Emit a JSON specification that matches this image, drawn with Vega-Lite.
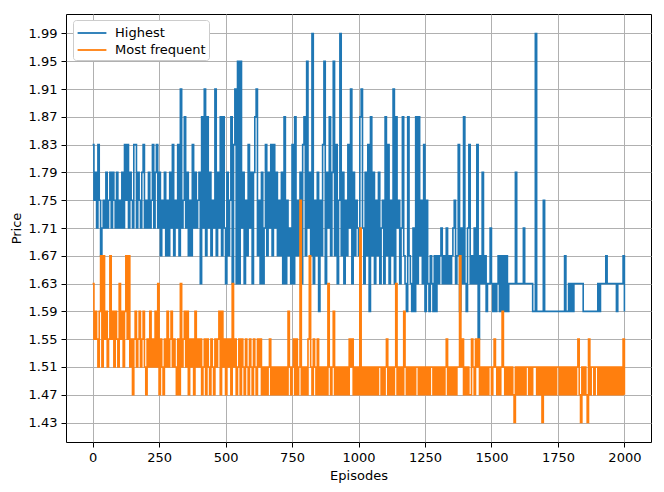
{
  "$schema": "https://vega.github.io/schema/vega-lite/v6.json",
  "width": 585,
  "height": 428,
  "autosize": {"type": "none"},
  "padding": {"left": 66, "top": 14, "right": 13, "bottom": 50},
  "background": "white",
  "data": {
    "values": [
      {"e":0,"h":1.83,"m":1.63},{"e":5,"h":1.75,"m":1.55},{"e":10,"h":1.79,"m":1.59},{"e":15,"h":1.71,"m":1.55},{"e":20,"h":1.83,"m":1.51},
      {"e":25,"h":1.75,"m":1.59},{"e":30,"h":1.67,"m":1.67},{"e":35,"h":1.71,"m":1.51},{"e":40,"h":1.75,"m":1.67},{"e":45,"h":1.71,"m":1.55},
      {"e":50,"h":1.79,"m":1.59},{"e":55,"h":1.71,"m":1.51},{"e":60,"h":1.75,"m":1.55},{"e":65,"h":1.79,"m":1.67},{"e":70,"h":1.71,"m":1.55},
      {"e":75,"h":1.79,"m":1.59},{"e":80,"h":1.75,"m":1.51},{"e":85,"h":1.71,"m":1.59},{"e":90,"h":1.79,"m":1.55},{"e":95,"h":1.71,"m":1.51},
      {"e":100,"h":1.75,"m":1.63},{"e":105,"h":1.71,"m":1.55},{"e":110,"h":1.79,"m":1.59},{"e":115,"h":1.71,"m":1.51},{"e":120,"h":1.83,"m":1.59},
      {"e":125,"h":1.75,"m":1.67},{"e":130,"h":1.83,"m":1.55},{"e":135,"h":1.71,"m":1.67},{"e":140,"h":1.79,"m":1.51},{"e":145,"h":1.75,"m":1.55},
      {"e":150,"h":1.71,"m":1.47},{"e":155,"h":1.83,"m":1.55},{"e":160,"h":1.83,"m":1.59},{"e":165,"h":1.71,"m":1.51},{"e":170,"h":1.79,"m":1.55},
      {"e":175,"h":1.75,"m":1.59},{"e":180,"h":1.71,"m":1.51},{"e":185,"h":1.79,"m":1.55},{"e":190,"h":1.83,"m":1.59},{"e":195,"h":1.71,"m":1.51},
      {"e":200,"h":1.75,"m":1.47},{"e":205,"h":1.71,"m":1.55},{"e":210,"h":1.79,"m":1.51},{"e":215,"h":1.71,"m":1.59},{"e":220,"h":1.75,"m":1.51},
      {"e":225,"h":1.83,"m":1.55},{"e":230,"h":1.71,"m":1.51},{"e":235,"h":1.79,"m":1.59},{"e":240,"h":1.83,"m":1.51},{"e":245,"h":1.71,"m":1.63},
      {"e":250,"h":1.79,"m":1.47},{"e":255,"h":1.67,"m":1.55},{"e":260,"h":1.75,"m":1.51},{"e":265,"h":1.71,"m":1.47},{"e":270,"h":1.79,"m":1.55},
      {"e":275,"h":1.67,"m":1.51},{"e":280,"h":1.75,"m":1.59},{"e":285,"h":1.67,"m":1.51},{"e":290,"h":1.79,"m":1.55},{"e":295,"h":1.71,"m":1.59},
      {"e":300,"h":1.83,"m":1.51},{"e":305,"h":1.67,"m":1.55},{"e":310,"h":1.75,"m":1.51},{"e":315,"h":1.71,"m":1.47},{"e":320,"h":1.83,"m":1.55},
      {"e":325,"h":1.67,"m":1.47},{"e":330,"h":1.91,"m":1.63},{"e":335,"h":1.71,"m":1.51},{"e":340,"h":1.75,"m":1.55},{"e":345,"h":1.87,"m":1.59},
      {"e":350,"h":1.71,"m":1.51},{"e":355,"h":1.79,"m":1.59},{"e":360,"h":1.67,"m":1.47},{"e":365,"h":1.75,"m":1.55},{"e":370,"h":1.67,"m":1.51},
      {"e":375,"h":1.83,"m":1.55},{"e":380,"h":1.71,"m":1.47},{"e":385,"h":1.79,"m":1.59},{"e":390,"h":1.71,"m":1.51},{"e":395,"h":1.75,"m":1.55},
      {"e":400,"h":1.79,"m":1.51},{"e":405,"h":1.63,"m":1.55},{"e":410,"h":1.87,"m":1.47},{"e":415,"h":1.71,"m":1.51},{"e":420,"h":1.91,"m":1.55},
      {"e":425,"h":1.67,"m":1.47},{"e":430,"h":1.87,"m":1.55},{"e":435,"h":1.71,"m":1.51},{"e":440,"h":1.79,"m":1.47},{"e":445,"h":1.67,"m":1.55},
      {"e":450,"h":1.75,"m":1.51},{"e":455,"h":1.71,"m":1.47},{"e":460,"h":1.91,"m":1.55},{"e":465,"h":1.67,"m":1.51},{"e":470,"h":1.79,"m":1.55},
      {"e":475,"h":1.71,"m":1.59},{"e":480,"h":1.87,"m":1.47},{"e":485,"h":1.67,"m":1.59},{"e":490,"h":1.87,"m":1.51},{"e":495,"h":1.71,"m":1.55},
      {"e":500,"h":1.63,"m":1.47},{"e":505,"h":1.79,"m":1.55},{"e":510,"h":1.67,"m":1.51},{"e":515,"h":1.75,"m":1.55},{"e":520,"h":1.87,"m":1.47},
      {"e":525,"h":1.63,"m":1.63},{"e":530,"h":1.83,"m":1.51},{"e":535,"h":1.91,"m":1.55},{"e":540,"h":1.63,"m":1.47},{"e":545,"h":1.95,"m":1.51},
      {"e":550,"h":1.63,"m":1.55},{"e":555,"h":1.95,"m":1.47},{"e":560,"h":1.71,"m":1.55},{"e":565,"h":1.79,"m":1.51},{"e":570,"h":1.63,"m":1.47},
      {"e":575,"h":1.75,"m":1.55},{"e":580,"h":1.67,"m":1.51},{"e":585,"h":1.83,"m":1.47},{"e":590,"h":1.71,"m":1.55},{"e":595,"h":1.79,"m":1.51},
      {"e":600,"h":1.63,"m":1.47},{"e":605,"h":1.79,"m":1.55},{"e":610,"h":1.87,"m":1.51},{"e":615,"h":1.91,"m":1.47},{"e":620,"h":1.67,"m":1.55},
      {"e":625,"h":1.75,"m":1.51},{"e":630,"h":1.63,"m":1.55},{"e":635,"h":1.79,"m":1.47},{"e":640,"h":1.63,"m":1.51},{"e":645,"h":1.71,"m":1.47},
      {"e":650,"h":1.83,"m":1.51},{"e":655,"h":1.67,"m":1.47},{"e":660,"h":1.79,"m":1.51},{"e":665,"h":1.71,"m":1.55},{"e":670,"h":1.83,"m":1.47},
      {"e":675,"h":1.67,"m":1.51},{"e":680,"h":1.83,"m":1.47},{"e":685,"h":1.71,"m":1.51},{"e":690,"h":1.79,"m":1.47},{"e":695,"h":1.67,"m":1.51},
      {"e":700,"h":1.75,"m":1.47},{"e":705,"h":1.67,"m":1.51},{"e":710,"h":1.79,"m":1.47},{"e":715,"h":1.63,"m":1.51},{"e":720,"h":1.87,"m":1.47},
      {"e":725,"h":1.63,"m":1.51},{"e":730,"h":1.75,"m":1.47},{"e":735,"h":1.67,"m":1.59},{"e":740,"h":1.71,"m":1.51},{"e":745,"h":1.63,"m":1.47},
      {"e":750,"h":1.83,"m":1.51},{"e":755,"h":1.63,"m":1.55},{"e":760,"h":1.87,"m":1.47},{"e":765,"h":1.67,"m":1.55},{"e":770,"h":1.75,"m":1.47},
      {"e":775,"h":1.67,"m":1.51},{"e":780,"h":1.79,"m":1.75},{"e":785,"h":1.63,"m":1.47},{"e":790,"h":1.83,"m":1.51},{"e":795,"h":1.87,"m":1.47},
      {"e":800,"h":1.67,"m":1.51},{"e":805,"h":1.95,"m":1.47},{"e":810,"h":1.71,"m":1.55},{"e":815,"h":1.79,"m":1.67},{"e":820,"h":1.67,"m":1.51},
      {"e":825,"h":1.99,"m":1.47},{"e":830,"h":1.63,"m":1.55},{"e":835,"h":1.75,"m":1.51},{"e":840,"h":1.67,"m":1.47},{"e":845,"h":1.79,"m":1.55},
      {"e":850,"h":1.59,"m":1.47},{"e":855,"h":1.75,"m":1.51},{"e":860,"h":1.67,"m":1.47},{"e":865,"h":1.83,"m":1.51},{"e":870,"h":1.95,"m":1.47},
      {"e":875,"h":1.63,"m":1.51},{"e":880,"h":1.79,"m":1.47},{"e":885,"h":1.71,"m":1.63},{"e":890,"h":1.87,"m":1.51},{"e":895,"h":1.67,"m":1.47},
      {"e":900,"h":1.79,"m":1.51},{"e":905,"h":1.95,"m":1.59},{"e":910,"h":1.67,"m":1.47},{"e":915,"h":1.83,"m":1.51},{"e":920,"h":1.63,"m":1.47},
      {"e":925,"h":1.75,"m":1.51},{"e":930,"h":1.99,"m":1.47},{"e":935,"h":1.67,"m":1.51},{"e":940,"h":1.79,"m":1.47},{"e":945,"h":1.63,"m":1.51},
      {"e":950,"h":1.75,"m":1.47},{"e":955,"h":1.67,"m":1.51},{"e":960,"h":1.83,"m":1.47},{"e":965,"h":1.71,"m":1.55},{"e":970,"h":1.91,"m":1.51},
      {"e":975,"h":1.63,"m":1.55},{"e":980,"h":1.79,"m":1.47},{"e":985,"h":1.67,"m":1.51},{"e":990,"h":1.75,"m":1.47},{"e":995,"h":1.71,"m":1.51},
      {"e":1000,"h":1.67,"m":1.47},{"e":1005,"h":1.87,"m":1.71},{"e":1010,"h":1.91,"m":1.47},{"e":1015,"h":1.71,"m":1.51},{"e":1020,"h":1.63,"m":1.47},
      {"e":1025,"h":1.79,"m":1.51},{"e":1030,"h":1.67,"m":1.47},{"e":1035,"h":1.83,"m":1.51},{"e":1040,"h":1.59,"m":1.47},{"e":1045,"h":1.87,"m":1.51},
      {"e":1050,"h":1.67,"m":1.47},{"e":1055,"h":1.79,"m":1.51},{"e":1060,"h":1.63,"m":1.47},{"e":1065,"h":1.75,"m":1.51},{"e":1070,"h":1.67,"m":1.47},
      {"e":1075,"h":1.79,"m":1.51},{"e":1080,"h":1.63,"m":1.51},{"e":1085,"h":1.71,"m":1.47},{"e":1090,"h":1.75,"m":1.51},{"e":1095,"h":1.63,"m":1.47},
      {"e":1100,"h":1.87,"m":1.51},{"e":1105,"h":1.67,"m":1.55},{"e":1110,"h":1.83,"m":1.47},{"e":1115,"h":1.63,"m":1.51},{"e":1120,"h":1.75,"m":1.47},
      {"e":1125,"h":1.67,"m":1.51},{"e":1130,"h":1.91,"m":1.47},{"e":1135,"h":1.63,"m":1.51},{"e":1140,"h":1.87,"m":1.63},{"e":1145,"h":1.71,"m":1.47},
      {"e":1150,"h":1.75,"m":1.51},{"e":1155,"h":1.63,"m":1.47},{"e":1160,"h":1.71,"m":1.51},{"e":1165,"h":1.87,"m":1.47},{"e":1170,"h":1.67,"m":1.59},
      {"e":1175,"h":1.63,"m":1.51},{"e":1180,"h":1.59,"m":1.47},{"e":1185,"h":1.87,"m":1.51},{"e":1190,"h":1.67,"m":1.47},{"e":1195,"h":1.63,"m":1.51},
      {"e":1200,"h":1.59,"m":1.47},{"e":1205,"h":1.71,"m":1.51},{"e":1210,"h":1.59,"m":1.47},{"e":1215,"h":1.87,"m":1.51},{"e":1220,"h":1.63,"m":1.51},
      {"e":1225,"h":1.87,"m":1.47},{"e":1230,"h":1.67,"m":1.51},{"e":1235,"h":1.75,"m":1.47},{"e":1240,"h":1.63,"m":1.51},{"e":1245,"h":1.83,"m":1.47},
      {"e":1250,"h":1.59,"m":1.51},{"e":1255,"h":1.75,"m":1.47},{"e":1260,"h":1.63,"m":1.51},{"e":1265,"h":1.59,"m":1.47},{"e":1270,"h":1.67,"m":1.51},
      {"e":1275,"h":1.63,"m":1.51},{"e":1280,"h":1.59,"m":1.47},{"e":1285,"h":1.67,"m":1.51},{"e":1290,"h":1.59,"m":1.47},{"e":1295,"h":1.67,"m":1.51},
      {"e":1300,"h":1.63,"m":1.47},{"e":1305,"h":1.67,"m":1.51},{"e":1310,"h":1.71,"m":1.47},{"e":1315,"h":1.63,"m":1.51},{"e":1320,"h":1.67,"m":1.47},
      {"e":1325,"h":1.63,"m":1.51},{"e":1330,"h":1.71,"m":1.55},{"e":1335,"h":1.63,"m":1.47},{"e":1340,"h":1.67,"m":1.51},{"e":1345,"h":1.63,"m":1.47},
      {"e":1350,"h":1.67,"m":1.51},{"e":1355,"h":1.71,"m":1.47},{"e":1360,"h":1.75,"m":1.51},{"e":1365,"h":1.63,"m":1.47},{"e":1370,"h":1.67,"m":1.51},
      {"e":1375,"h":1.83,"m":1.51},{"e":1380,"h":1.59,"m":1.67},{"e":1385,"h":1.71,"m":1.51},{"e":1390,"h":1.63,"m":1.55},{"e":1395,"h":1.87,"m":1.47},
      {"e":1400,"h":1.63,"m":1.51},{"e":1405,"h":1.59,"m":1.47},{"e":1410,"h":1.71,"m":1.51},{"e":1415,"h":1.83,"m":1.47},{"e":1420,"h":1.63,"m":1.47},
      {"e":1425,"h":1.67,"m":1.55},{"e":1430,"h":1.63,"m":1.51},{"e":1435,"h":1.71,"m":1.47},{"e":1440,"h":1.63,"m":1.55},{"e":1445,"h":1.83,"m":1.51},
      {"e":1450,"h":1.55,"m":1.55},{"e":1455,"h":1.67,"m":1.47},{"e":1460,"h":1.63,"m":1.51},{"e":1465,"h":1.79,"m":1.47},{"e":1470,"h":1.63,"m":1.51},
      {"e":1475,"h":1.67,"m":1.47},{"e":1480,"h":1.59,"m":1.51},{"e":1485,"h":1.63,"m":1.47},{"e":1490,"h":1.63,"m":1.51},{"e":1495,"h":1.71,"m":1.51},
      {"e":1500,"h":1.63,"m":1.47},{"e":1505,"h":1.59,"m":1.51},{"e":1510,"h":1.63,"m":1.55},{"e":1515,"h":1.59,"m":1.51},{"e":1520,"h":1.63,"m":1.47},
      {"e":1525,"h":1.67,"m":1.51},{"e":1530,"h":1.59,"m":1.47},{"e":1535,"h":1.67,"m":1.51},{"e":1540,"h":1.59,"m":1.59},{"e":1545,"h":1.67,"m":1.51},
      {"e":1550,"h":1.59,"m":1.47},{"e":1555,"h":1.67,"m":1.51},{"e":1560,"h":1.59,"m":1.47},{"e":1565,"h":1.63,"m":1.51},{"e":1570,"h":1.63,"m":1.47},
      {"e":1575,"h":1.63,"m":1.51},{"e":1580,"h":1.63,"m":1.47},{"e":1585,"h":1.63,"m":1.43},{"e":1590,"h":1.79,"m":1.51},{"e":1595,"h":1.63,"m":1.47},
      {"e":1600,"h":1.63,"m":1.51},{"e":1605,"h":1.63,"m":1.47},{"e":1610,"h":1.63,"m":1.51},{"e":1615,"h":1.63,"m":1.47},{"e":1620,"h":1.71,"m":1.51},
      {"e":1625,"h":1.63,"m":1.47},{"e":1630,"h":1.63,"m":1.51},{"e":1635,"h":1.63,"m":1.51},{"e":1640,"h":1.63,"m":1.47},{"e":1645,"h":1.63,"m":1.51},
      {"e":1650,"h":1.63,"m":1.47},{"e":1655,"h":1.59,"m":1.51},{"e":1660,"h":1.59,"m":1.51},{"e":1665,"h":1.99,"m":1.51},{"e":1670,"h":1.59,"m":1.47},
      {"e":1675,"h":1.59,"m":1.51},{"e":1680,"h":1.59,"m":1.47},{"e":1685,"h":1.59,"m":1.51},{"e":1690,"h":1.59,"m":1.43},{"e":1695,"h":1.75,"m":1.51},
      {"e":1700,"h":1.59,"m":1.47},{"e":1705,"h":1.59,"m":1.51},{"e":1710,"h":1.59,"m":1.47},{"e":1715,"h":1.59,"m":1.51},{"e":1720,"h":1.59,"m":1.47},
      {"e":1725,"h":1.59,"m":1.51},{"e":1730,"h":1.59,"m":1.47},{"e":1735,"h":1.59,"m":1.51},{"e":1740,"h":1.59,"m":1.47},{"e":1745,"h":1.59,"m":1.51},
      {"e":1750,"h":1.59,"m":1.51},{"e":1755,"h":1.59,"m":1.47},{"e":1760,"h":1.59,"m":1.51},{"e":1765,"h":1.59,"m":1.47},{"e":1770,"h":1.59,"m":1.51},
      {"e":1775,"h":1.67,"m":1.47},{"e":1780,"h":1.59,"m":1.51},{"e":1785,"h":1.59,"m":1.47},{"e":1790,"h":1.63,"m":1.51},{"e":1795,"h":1.59,"m":1.47},
      {"e":1800,"h":1.63,"m":1.51},{"e":1805,"h":1.59,"m":1.47},{"e":1810,"h":1.63,"m":1.51},{"e":1815,"h":1.63,"m":1.47},{"e":1820,"h":1.63,"m":1.51},
      {"e":1825,"h":1.63,"m":1.55},{"e":1830,"h":1.63,"m":1.47},{"e":1835,"h":1.63,"m":1.43},{"e":1840,"h":1.63,"m":1.51},{"e":1845,"h":1.59,"m":1.47},
      {"e":1850,"h":1.59,"m":1.51},{"e":1855,"h":1.59,"m":1.47},{"e":1860,"h":1.59,"m":1.43},{"e":1865,"h":1.59,"m":1.55},{"e":1870,"h":1.59,"m":1.47},
      {"e":1875,"h":1.59,"m":1.51},{"e":1880,"h":1.59,"m":1.51},{"e":1885,"h":1.59,"m":1.47},{"e":1890,"h":1.59,"m":1.51},{"e":1895,"h":1.59,"m":1.51},
      {"e":1900,"h":1.63,"m":1.47},{"e":1905,"h":1.59,"m":1.51},{"e":1910,"h":1.63,"m":1.47},{"e":1915,"h":1.63,"m":1.51},{"e":1920,"h":1.63,"m":1.47},
      {"e":1925,"h":1.63,"m":1.51},{"e":1930,"h":1.67,"m":1.47},{"e":1935,"h":1.63,"m":1.51},{"e":1940,"h":1.63,"m":1.47},{"e":1945,"h":1.63,"m":1.51},
      {"e":1950,"h":1.63,"m":1.47},{"e":1955,"h":1.63,"m":1.51},{"e":1960,"h":1.63,"m":1.47},{"e":1965,"h":1.63,"m":1.51},{"e":1970,"h":1.59,"m":1.47},
      {"e":1975,"h":1.63,"m":1.51},{"e":1980,"h":1.63,"m":1.47},{"e":1985,"h":1.63,"m":1.51},{"e":1990,"h":1.63,"m":1.47},{"e":1995,"h":1.67,"m":1.55},
      {"e":2000,"h":1.59,"m":1.47}
    ]
  },
  "transform": [{"fold": ["h", "m"], "as": ["series", "price"]}],
  "mark": {"type": "line", "strokeWidth": 1.6, "interpolate": "step-after", "clip": true},
  "encoding": {
    "x": {
      "field": "e",
      "type": "quantitative",
      "title": "Episodes",
      "scale": {"domain": [-100, 2100], "nice": false, "zero": false},
      "axis": {"values": [0, 250, 500, 750, 1000, 1250, 1500, 1750, 2000], "format": "d"}
    },
    "y": {
      "field": "price",
      "type": "quantitative",
      "title": "Price",
      "scale": {"domain": [1.402, 2.018], "nice": false, "zero": false},
      "axis": {
        "values": [1.43, 1.47, 1.51, 1.55, 1.59, 1.63, 1.67, 1.71, 1.75, 1.79, 1.83, 1.87, 1.91, 1.95, 1.99],
        "format": ".2f",
        "titlePadding": 5
      }
    },
    "color": {
      "field": "series",
      "type": "nominal",
      "scale": {"domain": ["h", "m"], "range": ["#1f77b4", "#ff7f0e"]},
      "legend": {
        "title": null,
        "labelExpr": "datum.label == 'h' ? 'Highest' : 'Most frequent'",
        "orient": "none",
        "legendX": 7,
        "legendY": 6
      }
    }
  },
  "config": {
    "font": "DejaVu Sans",
    "view": {"stroke": "black", "strokeWidth": 1},
    "axis": {
      "grid": true,
      "gridColor": "#b0b0b0",
      "gridWidth": 1,
      "domain": false,
      "ticks": true,
      "tickColor": "black",
      "tickSize": 5,
      "tickWidth": 1,
      "labelFont": "DejaVu Sans",
      "labelFontSize": 13,
      "labelColor": "black",
      "labelPadding": 4,
      "titleFont": "DejaVu Sans",
      "titleFontSize": 13,
      "titleFontWeight": "normal",
      "titleColor": "black"
    },
    "axisX": {"titlePadding": 5},
    "legend": {
      "padding": 3,
      "fillColor": "white",
      "strokeColor": "#cccccc",
      "cornerRadius": 3,
      "symbolType": "M-1.6,0H1.6",
      "symbolSize": 324,
      "symbolStrokeWidth": 1.8,
      "symbolOffset": 6,
      "labelFont": "DejaVu Sans",
      "labelFontSize": 13,
      "labelColor": "black",
      "labelOffset": 13,
      "rowPadding": 0
    }
  }
}
